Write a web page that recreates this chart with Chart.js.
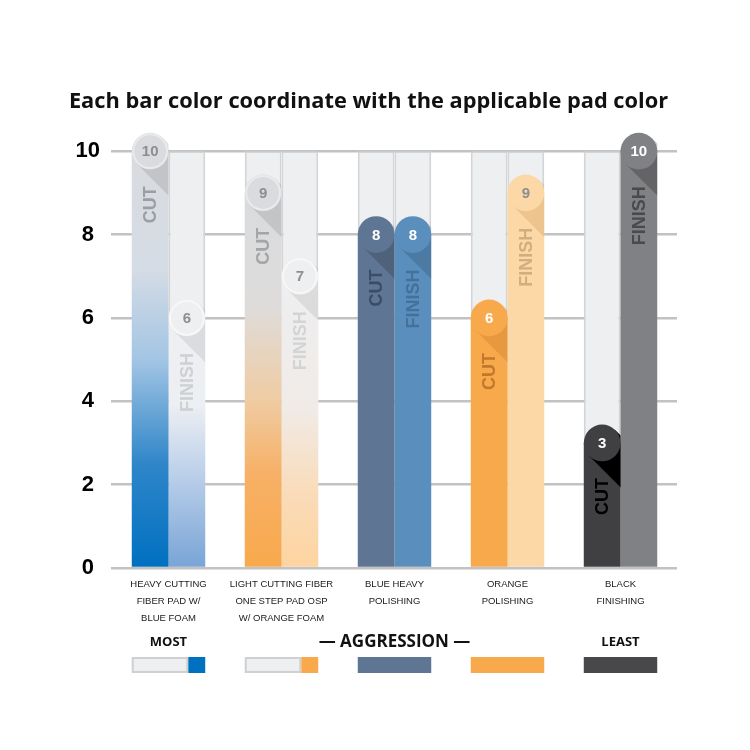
<!DOCTYPE html>
<html>
<head>
<meta charset="utf-8">
<script src="https://cdn.jsdelivr.net/npm/chart.js@4"></script>
<style>
html,body{margin:0;padding:0;background:#fff;}
#wrap{width:750px;height:750px;}
</style>
</head>
<body>
<div id="wrap"><canvas id="c" width="750" height="750"></canvas></div>
<script>
// ---- data ----
const categories = [
  ['HEAVY CUTTING','FIBER PAD W/','BLUE FOAM'],
  ['LIGHT CUTTING FIBER','ONE STEP PAD OSP','W/ ORANGE FOAM'],
  ['BLUE HEAVY','POLISHING'],
  ['ORANGE','POLISHING'],
  ['BLACK','FINISHING']
];
const cutValues = [10, 9, 8, 6, 3];
const finishValues = [6, 7, 8, 9, 10];
const trackValues = [10, 10, 10, 10, 10];
const seriesNames = ['CUT', 'FINISH'];
const yTickLabels = {0:'0', 2:'2', 4:'4', 6:'6', 8:'8', 10:'10'};
const titleText = 'Each bar color coordinate with the applicable pad color';
const aggressionTexts = ['MOST', '\u2014 AGGRESSION \u2014', 'LEAST'];

// ---- styles ----
const cutFills = [
  [[0,'#d9dbde'],[0.28,'#d5dce5'],[0.5,'#a3c5e4'],[0.75,'#2f86c9'],[1,'#0070c0']],
  [[0,'#d9dbde'],[0.3,'#dedcdb'],[0.55,'#efcca4'],[0.75,'#f7b066'],[1,'#f8a94c']],
  [[0,'#5e7594'],[1,'#5e7594']],
  [[0,'#f8a94c'],[1,'#f8a94c']],
  [[0,'#404043'],[1,'#404043']]
];
const finishFills = [
  [[0,'#eeeff1'],[0.35,'#eceff3'],[0.62,'#bcd0ea'],[1,'#78a4d6']],
  [[0,'#eeeff1'],[0.45,'#f0ebe7'],[0.75,'#fadbb8'],[1,'#fdd4a0']],
  [[0,'#5a8fbd'],[1,'#5a8fbd']],
  [[0,'#fcd8a6'],[1,'#fcd8a6']],
  [[0,'#808184'],[1,'#808184']]
];
const capStyles = [
  { // cut
    fill:   ['#d9dbde','#d9dbde','#5e7594','#f8a94c','#404043'],
    ring:   ['#e9eaec','#e9eaec',null,null,null],
    shadow: ['rgba(0,0,0,0.10)','rgba(0,0,0,0.10)','rgba(0,0,0,0.16)','rgba(150,70,0,0.16)','#000000'],
    num:    ['#8c8e91','#8c8e91','#ffffff','#ffffff','#ffffff'],
    label:  ['#9c9ea1','#a3a5a8','#3a4c66','#c07a2c','#000000']
  },
  { // finish
    fill:   ['#eeeff1','#eeeff1','#5a8fbd','#fcd8a6','#808184'],
    ring:   ['#f7f7f8','#f7f7f8',null,null,null],
    shadow: ['rgba(0,0,0,0.08)','rgba(0,0,0,0.08)','rgba(0,0,0,0.14)','rgba(150,80,0,0.14)','rgba(0,0,0,0.22)'],
    num:    ['#8c8e91','#8c8e91','#ffffff','#8c8e91','#ffffff'],
    label:  ['#cfd0d2','#d3d4d6','#44719b','#d0ae80','#4a4a4c']
  }
];
const swatchMain = ['#0070c0','#f8a94c','#5e7594','#f8a94c','#48484b'];
const swatchSplit = [true, true, false, false, false];

function gradientFill(stopsArr, values){
  return function(ctx){
    const chart = ctx.chart;
    const ys = chart.scales.y;
    const i = ctx.dataIndex;
    if (!ys || i === undefined || !stopsArr[i]) return stopsArr[0][0][1];
    const stops = stopsArr[i];
    const top = ys.getPixelForValue(values[i]);
    const bottom = ys.getPixelForValue(0);
    if (!isFinite(top) || !isFinite(bottom) || top === bottom) return stops[stops.length - 1][1];
    const g = chart.ctx.createLinearGradient(0, top, 0, bottom);
    stops.forEach(s => g.addColorStop(s[0], s[1]));
    return g;
  };
}

const capPlugin = {
  id: 'caps',
  afterDatasetsDraw(chart){
    const ctx = chart.ctx;
    [0,1].forEach(di => {
      const meta = chart.getDatasetMeta(di);
      const st = capStyles[di];
      const vals = di === 0 ? cutValues : finishValues;
      meta.data.forEach((bar, i) => {
        const x = bar.x, y = bar.y, r = bar.width / 2, base = bar.base;
        const k = Math.SQRT1_2 * r, L = 4 * r;
        ctx.save();
        ctx.beginPath();
        ctx.rect(x - r, y - r, 2 * r, base - y + r);
        ctx.clip();
        ctx.beginPath();
        ctx.moveTo(x + k, y - k);
        ctx.lineTo(x + k + L, y - k + L);
        ctx.lineTo(x - k + L, y + k + L);
        ctx.lineTo(x - k, y + k);
        ctx.closePath();
        ctx.fillStyle = st.shadow[i];
        ctx.fill();
        ctx.restore();
        ctx.save();
        ctx.beginPath();
        ctx.arc(x, y, r, 0, Math.PI * 2);
        ctx.fillStyle = st.fill[i];
        ctx.fill();
        if (st.ring[i]) {
          ctx.beginPath();
          ctx.arc(x, y, r - 1.5, 0, Math.PI * 2);
          ctx.lineWidth = 2;
          ctx.strokeStyle = st.ring[i];
          ctx.stroke();
        }
        ctx.fillStyle = st.num[i];
        ctx.font = 'bold 15px "Liberation Sans", Arial, sans-serif';
        ctx.textAlign = 'center';
        ctx.textBaseline = 'middle';
        ctx.fillText(String(vals[i]), x, y + 1);
        ctx.translate(x, y + 35);
        ctx.rotate(-Math.PI / 2);
        ctx.font = 'bold 18px "Liberation Sans", Arial, sans-serif';
        ctx.textAlign = 'right';
        ctx.textBaseline = 'middle';
        ctx.fillStyle = st.label[i];
        ctx.fillText(seriesNames[di], 0, 1);
        ctx.restore();
      });
    });
  }
};

const aggressionPlugin = {
  id: 'aggression',
  afterDraw(chart){
    const ctx = chart.ctx;
    const xs = chart.scales.x;
    const bottom = chart.chartArea.bottom;
    const half = xs.width / categories.length * 0.65 / 2;
    ctx.save();
    ctx.fillStyle = '#111';
    ctx.textAlign = 'center';
    ctx.textBaseline = 'middle';
    ctx.font = 'bold 13px "Open Sans", sans-serif';
    ctx.fillText(aggressionTexts[0], xs.getPixelForValue(0), bottom + 74);
    ctx.fillText(aggressionTexts[2], xs.getPixelForValue(4), bottom + 74);
    ctx.font = 'bold 17px "Open Sans", sans-serif';
    ctx.fillText(aggressionTexts[1], xs.getPixelForValue(2), bottom + 74);
    for (let i = 0; i < categories.length; i++) {
      const cx = xs.getPixelForValue(i);
      const x0 = cx - half, w = half * 2, y0 = bottom + 89, h = 16;
      if (swatchSplit[i]) {
        const gw = w * 0.77;
        ctx.fillStyle = '#eeeff1';
        ctx.fillRect(x0, y0, gw, h);
        ctx.strokeStyle = '#cfd0d2';
        ctx.lineWidth = 2;
        ctx.strokeRect(x0 + 1, y0 + 1, gw - 2, h - 2);
        ctx.fillStyle = swatchMain[i];
        ctx.fillRect(x0 + gw, y0, w - gw, h);
      } else {
        ctx.fillStyle = swatchMain[i];
        ctx.fillRect(x0, y0, w, h);
      }
    }
    ctx.restore();
  }
};

const barCommon = { categoryPercentage: 0.65, barPercentage: 1.0, borderWidth: 0 };

new Chart(document.getElementById('c'), {
  type: 'bar',
  data: {
    labels: categories,
    datasets: [
      Object.assign({ label: seriesNames[0], data: cutValues, stack: 'cut', order: 1,
        backgroundColor: gradientFill(cutFills, cutValues) }, barCommon),
      Object.assign({ label: seriesNames[1], data: finishValues, stack: 'finish', order: 1,
        backgroundColor: gradientFill(finishFills, finishValues) }, barCommon),
      Object.assign({ label: 'track1', data: trackValues, stack: 'cut', order: 2,
        backgroundColor: '#eeeff1' }, barCommon, { borderWidth: 2, borderColor: '#d3d4d6' }),
      Object.assign({ label: 'track2', data: trackValues, stack: 'finish', order: 2,
        backgroundColor: '#eeeff1' }, barCommon, { borderWidth: 2, borderColor: '#d3d4d6' })
    ]
  },
  options: {
    responsive: false,
    animation: false,
    layout: { padding: { left: 60, right: 73, top: 0, bottom: 112 } },
    plugins: {
      legend: { display: false },
      tooltip: { enabled: false },
      title: {
        display: true,
        text: titleText,
        color: '#111',
        font: { family: '"Open Sans", sans-serif', size: 21.8, weight: 'bold', lineHeight: 1.2 },
        padding: { top: 89, bottom: 36 }
      }
    },
    scales: {
      x: {
        grid: { display: false, drawTicks: false },
        border: { display: false },
        ticks: {
          color: '#1a1a1a',
          padding: 8,
          maxRotation: 0,
          autoSkip: false,
          font: { family: '"Liberation Sans", Arial, sans-serif', size: 9.5, lineHeight: 1.8 }
        },
        afterFit(scale){ scale.height = 70; }
      },
      y: {
        min: 0, max: 10,
        stacked: false,
        grid: { color: '#c2c2c2', lineWidth: 2.5, drawTicks: true, tickLength: 1, tickColor: '#c2c2c2', tickWidth: 2.5 },
        border: { display: false },
        ticks: {
          stepSize: 1,
          color: '#000',
          padding: 11,
          crossAlign: 'center',
          font: { family: '"Liberation Sans", Arial, sans-serif', size: 22, weight: 'bold' },
          callback: v => (yTickLabels[v] !== undefined ? yTickLabels[v] : null)
        },
        afterFit(scale){ scale.width = 52; }
      }
    }
  },
  plugins: [capPlugin, aggressionPlugin]
});
</script>
</body>
</html>
